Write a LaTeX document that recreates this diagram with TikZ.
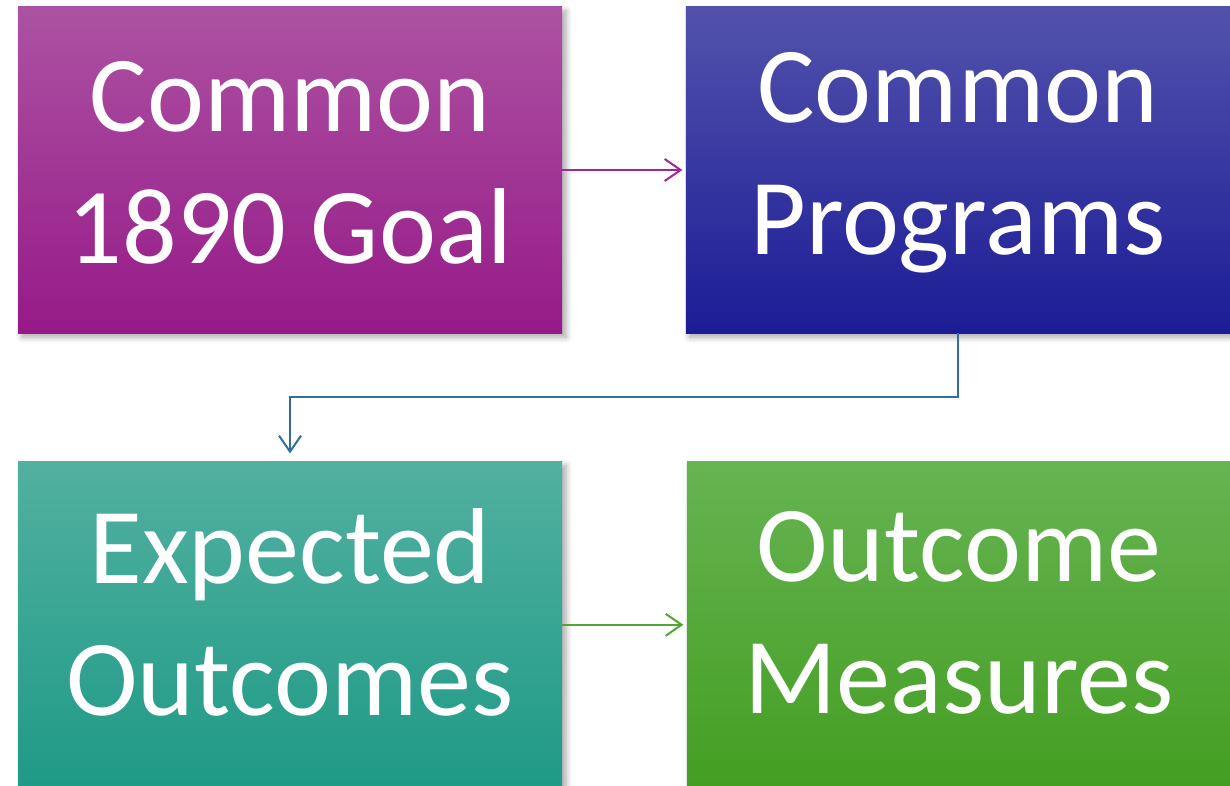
\documentclass[tikz,border=0pt]{standalone}
\usepackage{fontspec}
\setmainfont{Carlito}
\usetikzlibrary{positioning,shadows.blur,arrows.meta}
\definecolor{goal-top}{RGB}{172,82,162}
\definecolor{goal-bot}{RGB}{150,26,136}
\definecolor{prog-top}{RGB}{82,82,172}
\definecolor{prog-bot}{RGB}{28,28,150}
\definecolor{expc-top}{RGB}{82,176,160}
\definecolor{expc-bot}{RGB}{30,154,134}
\definecolor{meas-top}{RGB}{102,180,82}
\definecolor{meas-bot}{RGB}{68,158,34}
\definecolor{goal-line}{RGB}{160,40,150}
\definecolor{prog-line}{RGB}{50,110,162}
\definecolor{expc-line}{RGB}{82,166,52}
\begin{document}
\begin{tikzpicture}[
    block/.style={minimum width=272pt, minimum height=163pt, inner sep=0pt,
      blur shadow={shadow xshift=2pt, shadow yshift=-2pt, shadow blur steps=6, shadow blur radius=3pt, shadow opacity=35}},
    caption/.style={align=center, text=white, inner sep=0pt, font=\fontsize{54}{66}\selectfont},
    link/.style={line width=1pt, shorten >=1.5pt, -{Straight Barb[length=8pt, width=11pt, line width=1pt]}}
  ]
  \useasboundingbox (0,0) rectangle (615pt,-393pt);
  \clip (0,0) rectangle (615pt,-393pt);

  % Draw the top row
  \node (goal) [block, top color=goal-top, bottom color=goal-bot] at (145pt,-85pt) {};
  \node (programs) [block, top color=prog-top, bottom color=prog-bot, right=61.5pt of goal] {};

  % Draw the bottom row
  \node (expected) [block, top color=expc-top, bottom color=expc-bot, below=64pt of goal] {};
  \node (measures) [block, top color=meas-top, bottom color=meas-bot, right=62pt of expected] {};

  % Write the texts in the blocks
  \node (goal-text) [caption] at ([yshift=3.5pt]goal.center) {Common\\1890 Goal};
  \node (programs-text) [caption] at ([yshift=3.5pt]programs.center) {Common\\Programs};
  \node (expected-text) [caption] at ([yshift=6pt]expected.center) {Expected\\Outcomes};
  \node (measures-text) [caption] at ([yshift=6pt]measures.center) {Outcome\\Measures};

  % Connect the blocks with arrows
  \draw[link, goal-line] (goal) -- (programs);
  \draw[link, prog-line, shorten >=4pt] (programs.south) -- ++(0,-32pt) -| (expected.north);
  \draw[link, expc-line] (expected) -- (measures);
\end{tikzpicture}
\end{document}
